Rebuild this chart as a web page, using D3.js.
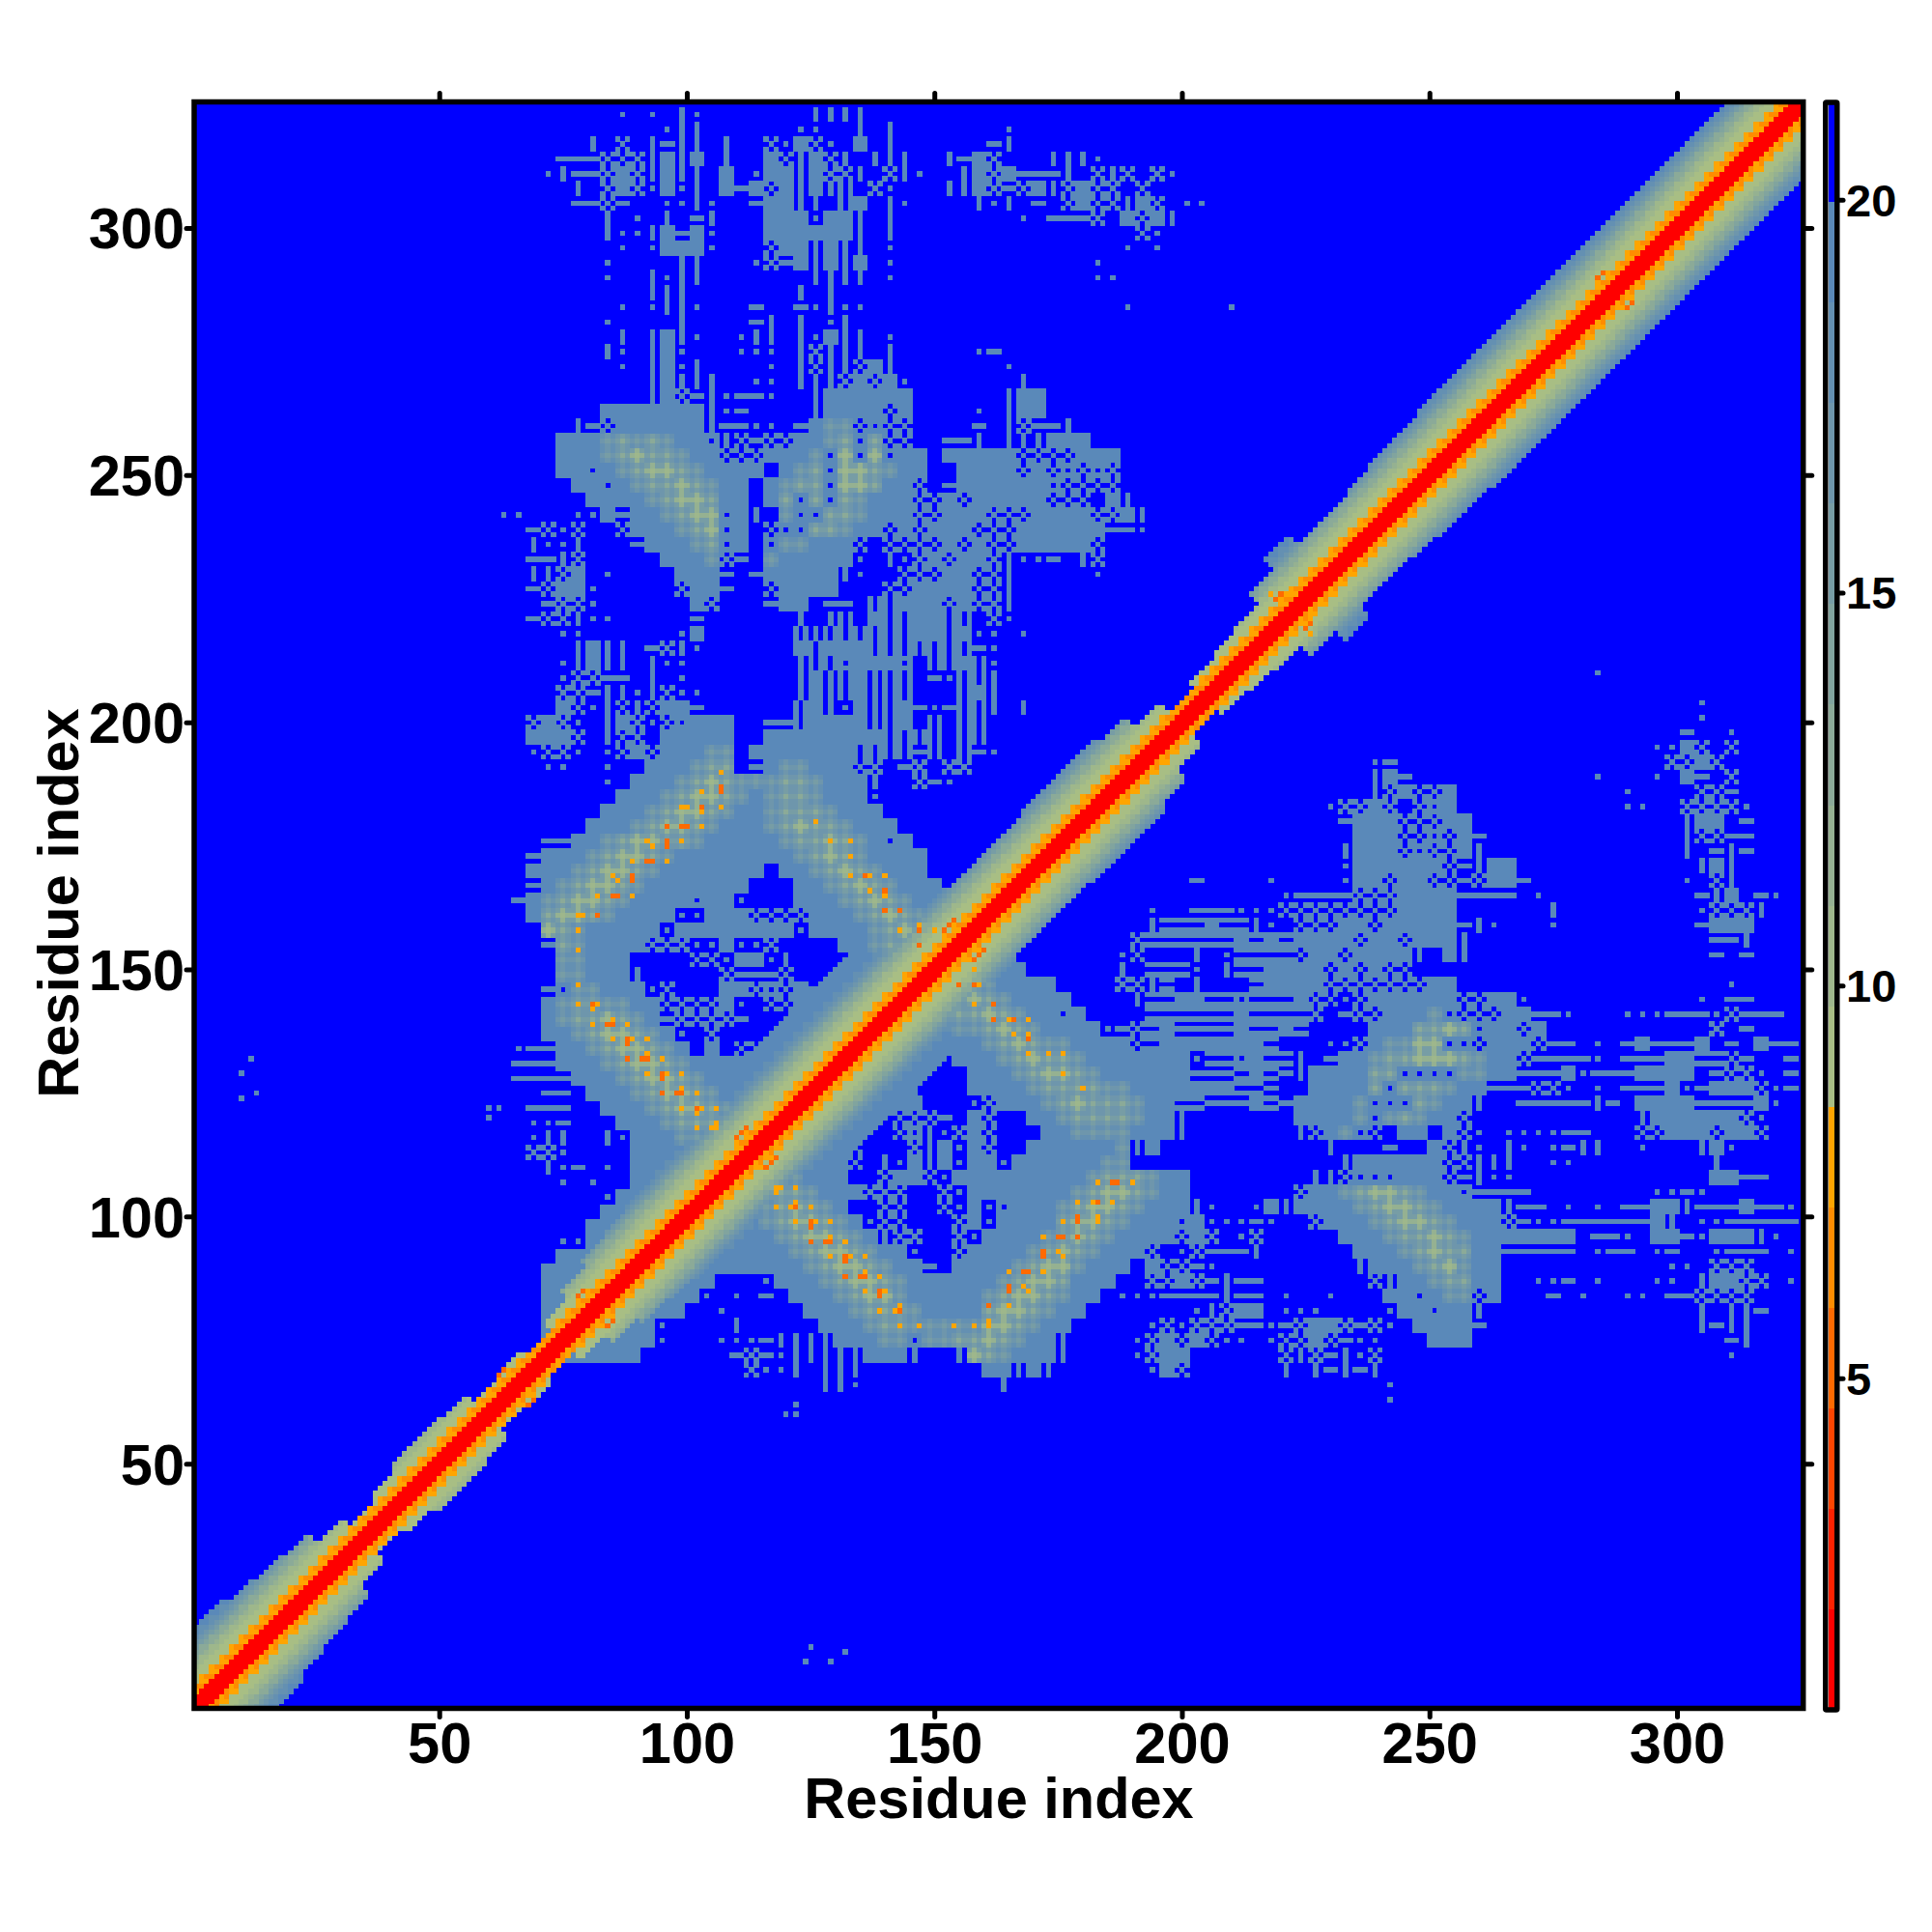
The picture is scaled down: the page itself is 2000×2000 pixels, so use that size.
<!DOCTYPE html>
<html><head><meta charset="utf-8">
<script src="https://cdn.jsdelivr.net/npm/d3@7/dist/d3.min.js"></script>
<style>html,body{margin:0;background:#fff}svg{display:block}text{font-family:"Liberation Sans",Arial,sans-serif;font-weight:bold;fill:#000}</style>
</head><body><svg id="c" width="2000" height="2000"></svg>
<script>
const axisLabel = "Residue index";
const mainTicks = [50,100,150,200,250,300];
const barTicks = [5,10,15,20];
const domainLo = 0.5, domainHi = 325.5;
const barLo = 0.78, barHi = 21.24, barStep = 1.28;
const palette = ["#ff0000","#ff2200","#ff4500","#ff6a00","#ff8c00","#ffa500","#a8be84","#9eb78b","#95b191","#8baa98","#81a49e","#779da5","#6e96ac","#6490b2","#5a89b9","#0000ff"];
// distance read along the backbone: value by offset |i-j|, even and odd residues
const bandEven = [1.5,1.5,1.5,6.5,7.5,7.5,9,9.5,10,11,12.5,13.5,15,16.5,17.5,18.5,19,19,19,19,19];
const bandOdd  = [1.5,1.5,1.5,7.5,6.5,9,9,9.5,10.5,11.5,13,14,15.5,17,18,19,19,19,19,19,19];
// how far the band reaches from the diagonal, per 5 residues along it
const bandReach = [15,16,16,14,13,12,8,5,7,9,9,8,5,6,4,7,10,12,13,14,15,16,20,20,20,20,20,20,20,20,16,14,13,13,13,14,14,14,12,8,4,6,7,8,12,16,12,12,13,14,14,15,15,15,15,15,15,15,15,15,15,15,15,15,15];
// upper triangle, 3-residue cells: x = 72,75,... ; y = 323,320,...
const contactRows = [
".....:.:.|:.......||||",
"........:||......::..|.|.......:",
"...|.%.|-||.|..%:#%:.#.|......-|",
".---%%%|#|#.|..#%|#%|.|.|||..|-#%...|||:".replace("|.|.|||","|.|||"),
":|--%#%|#||.#.:##|#%%|.%|:..|#%#---|.%|%.%:",
"..|.%#%:#:|.#-#%#|#|H.%:...||#%-%#|%#%%.%",
"..--%-..::|:..-##||.H#.|:....|:|.-.%#%%|#%.::",
"....|.:.|.-|...###:##|.|........:.---%.#%#|",
"....|::|#-#:...######|.|................%:",
".....:.:###:...%##|#||.:...............:.:",
"....:....||...:%-#|#|#.:.............:",
"....:..|:||.......||||.:.............::",
".......|||.......|.|",
".....:.:||:...-..-:|::.................:......:",
"....:....|....-|.|.:|",
".....|.|#|:..:||.|:#||.:",
"....|:.|#:...:::.|%|||.|.....:-",
".....:.|#:|....:.|%||%#|.......:",
".......|#|||..::.|||%#%#:.......|",
".......|#%-|:--:..|######......|##",
"....#######|:-....|####%#....:.|##",
"..|-%######|--::.-#aa%o%%....-.|%--|",
".###ababa##o|%-%%##abob%%..--|.|||###",
".###abcbba##%%%###aococo##.#####%%%%###",
".##o#abccba####.#aboccba##..####%#%o%o%",
"..##o#abbcba##.#abboccb##%.-######o%%%%",
"...####abccb##.#boboba###%%#%#####%%%.#|",
"..::#-##abcco#|.aoobba###%%###%%%####%%#|",
"%:%..%###abco#.%oobba##%#%###%%%######--:",
"::|...-###abo#.oaa###%.%%%%#%#%%#####%",
"-|%.....###a%-.a#####:.|:%#%##%|::-.|%",
"|%#.:....###-.-#####|:..%%%##%%|.....:",
"%##:.....%##-..%####...%%####%%|",
"-%%:......#%...-##.--.HH###%#%%|",
"%%|::.....-......|.|H.#HH##HH.%:",
".::......:#......H|HHHHHH##H#::.:",
"..|#||.-%|:......#H###HHHHHHH-:",
".:|#||.|::.......|HHo###o.HH#H:",
".:%%--.|.:.......|#|H#|HH.-:HH|",
".%%-||:|%::......|#|H#|HH...H#|",
".#%:|%|%##-......H#|:#|H#-:-HH|.|",
"#%:.|#%:%o###..--H####|H#.H.HH",
"##%.|%%.#####..########HHHH.HH",
"%%:.:%#%###aa.#######HHHH-H.H-:",
"::..:..###abb.-#aa###%%.-%.%%",
"....:.###abcbaaabba###|..%-:",
".....###abccba#abba###:",
"....###abccba##abbba###",
"...###abccba###abcbba###",
"--##abccbba#####abbcba#o#",
"###abccba########abcba####",
"##abccba#######.##abcba###",
"#abccba#######...##abcba###",
"abccba####o##:...###abcba##",
"bccba####::###%%%%###abcba#",
"cba#####:########:####abcbb",
"-ba####%%%::#::%....##abbcb",
".aa###....%%:##:|.....#abbb",
".aa###|.....%---%...##aabbbb",
"-oaa###:%...##%o%#-###abbbbb",
"#abbaa##%%%%#:.%%####aab",
"#abbcba#-%%%%-...####a",
"##abccba#:.%....-###a",
"-##abccba#.#.%%#####a",
"-###abccba##########",
"--###abccba#########",
"--.###abccba########",
"--..###abccba#aaaa",
":-...###abbbaa",
"||..|:###aaaaa",
"%:....####aabb",
"|:-.:.#####aaa",
".:.:..######",
"....:#######",
"....########",
"...#########",
".::########",
".#######",
"#######",
"#####",
"####",
"###",
"##"
];
const rowTop = 323, colLeft = 72, cellStep = 3;
// a little further left than the main block: x = 63,66,69
const outerRows = [[242,"::."],[239,"..-"],[236,"..|"],[233,"..-"],[230,"..|"],[227,"..-"],[221,"..-"],[200,"..%"],[197,"..#"],[194,"..:"],[173,"..-"],[170,"..#"],[167,"..-"],[164,".-#"],[161,"..#"],[134,".:-"],[131,".--"],[128,".--"],[122,"..-"],[119,"..:"],[116,"..:"],[113,"..%"]];
const outerCols = [63,66,69];
const specks = [[12,132],[10,129],[13,125],[10,124],[60,122],[62,122],[60,120]];
const hotLight = [[107,190],[103,186],[99,183],[100,183],[107,183],[103,182],[103,179],[92,176],[99,176],[93,175],[89,172],[96,172],[85,169],[86,168],[82,165],[89,165],[78,161],[79,161],[78,158],[78,154],[78,147],[78,143],[82,143],[81,142],[85,140],[81,139],[88,139],[85,136],[89,136],[92,136],[92,133],[95,132],[92,129],[96,129],[99,129],[99,126],[102,125],[99,122],[103,122],[106,122],[102,121],[102,118],[106,118],[105,118],[106,119],[126,180],[129,176],[133,176],[133,173],[133,169],[137,169],[140,169],[137,166],[140,165],[143,158],[147,159],[150,158],[218,226],[219,225],[221,226]];
const hotDark = [[107,187],[107,186],[103,183],[96,179],[99,179],[100,179],[96,176],[96,175],[92,172],[93,172],[89,169],[89,168],[85,165],[86,165],[82,161],[81,143],[84,139],[85,139],[88,136],[88,135],[88,132],[91,132],[92,132],[95,129],[95,128],[95,125],[98,125],[99,125],[102,122],[136,169],[140,166],[140,162],[143,162],[147,158],[147,155],[110,116],[111,117],[112,118],[152,158],[153,159],[154,160],[78,84],[79,85],[62,68],[63,69],[284,290],[285,291],[219,225],[220,226]];
const hotLightValue = 7.5, hotDarkValue = 5.2;
const stampValues = {"#":[19,19,19],"a":[15,17,18.5],"b":[12.5,15,17],"c":[10,12,15]};

const x = d3.scaleLinear().domain([domainLo,domainHi]).range([201,1866.7]);
const y = d3.scaleLinear().domain([domainLo,domainHi]).range([1768.5,105.5]);
const barY = d3.scaleLinear().domain([barLo,barHi]).range([1770,106]);
const color = d3.scaleThreshold().domain(d3.range(1,palette.length).map(k=>barLo+k*barStep)).range(palette);

const N = 325, m = new Float32Array((N+1)*(N+1)).fill(21);
function put(a,b,v){ if(a<1||b<1||a>N||b>N) return; const i=a*(N+1)+b,j=b*(N+1)+a; if(v<m[i]){m[i]=v;m[j]=v;} }
function stamp(cx,cy,g){
  for(let dx=-1;dx<=1;dx++)for(let dy=-1;dy<=1;dy++){
    const n=Math.abs(dx)+Math.abs(dy); let v=null;
    if(stampValues[g]) v=stampValues[g][n];
    else if(g==="|"&&dx===0) v=19;
    else if(g==="-"&&dy===0) v=19;
    else if(g===":"&&n===0) v=19;
    else if(g==="%"&&n%2===0) v=19;
    else if(g==="o"&&n>0) v=19;
    else if(g==="H"&&dx!==0) v=19;
    if(v!==null&&cy+dy>=cx+dx) put(cx+dx,cy+dy,v);
  }
}
contactRows.forEach((r,i)=>{[...r].forEach((g,k)=>{ if(g!==".") stamp(colLeft+k*cellStep,rowTop-i*cellStep,g); });});
outerRows.forEach(([yy,r])=>{[...r].forEach((g,k)=>{ if(g!==".") stamp(outerCols[k],yy,g); });});
specks.forEach(([a,b])=>put(a,b,19));
hotLight.forEach(([a,b])=>put(a,b,hotLightValue));
hotDark.forEach(([a,b])=>put(a,b,hotDarkValue));
for(let a=1;a<=N;a++)for(let b=a;b<=N;b++){
  const d=b-a, mid=(a+b)/2, reach=bandReach[Math.min(bandReach.length-1,Math.floor(mid/5))];
  if(d<=reach&&d<bandEven.length) put(a,b,(a%2?bandOdd:bandEven)[d]);
}
const cells=[];
for(let a=1;a<=N;a++)for(let b=1;b<=N;b++){const v=m[a*(N+1)+b]; if(v<20) cells.push({a,b,v});}

const svg=d3.select("#c");
svg.append("rect").attr("width",2000).attr("height",2000).attr("fill","#fff");
svg.append("rect").attr("x",x(domainLo)).attr("y",y(domainHi)).attr("width",x(domainHi)-x(domainLo)).attr("height",y(domainLo)-y(domainHi)).attr("fill",palette[15]);
const cw=x(1)-x(0);
svg.append("g").attr("shape-rendering","crispEdges").selectAll("rect").data(cells).join("rect")
 .attr("x",d=>x(d.a-.5)).attr("y",d=>y(d.b+.5)).attr("width",cw+.4).attr("height",cw+.4).attr("fill",d=>color(d.v));

function styleAxis(g){g.select(".domain").remove();g.selectAll(".tick line").attr("stroke","#000").attr("stroke-width",5).attr("stroke-linecap","round");}
const sz=59.5;
svg.append("g").attr("transform",`translate(0,${y(domainLo)+2})`).call(d3.axisBottom(x).tickValues(mainTicks).tickSize(7).tickPadding(0)).call(styleAxis).call(g=>g.selectAll("text").attr("y",54).attr("dy",0).attr("font-size",sz).attr("font-family",null));
svg.append("g").attr("transform",`translate(0,${y(domainHi)-2})`).call(d3.axisTop(x).tickValues(mainTicks).tickSize(7).tickFormat("")).call(styleAxis);
svg.append("g").attr("transform",`translate(${x(domainLo)-2},0)`).call(d3.axisLeft(y).tickValues(mainTicks).tickSize(6).tickPadding(2)).call(styleAxis).call(g=>g.selectAll("text").attr("dy",21).attr("font-size",sz).attr("font-family",null));
svg.append("g").attr("transform",`translate(${x(domainHi)+2},0)`).call(d3.axisRight(y).tickValues(mainTicks).tickSize(7).tickFormat("")).call(styleAxis);
svg.append("rect").attr("x",x(domainLo)).attr("y",y(domainHi)).attr("width",x(domainHi)-x(domainLo)).attr("height",y(domainLo)-y(domainHi)).attr("fill","none").attr("stroke","#000").attr("stroke-width",5.5);
svg.append("text").attr("x",1034).attr("y",1882).attr("text-anchor","middle").attr("font-size",sz).text(axisLabel);
svg.append("text").attr("transform","translate(81,935) rotate(-90)").attr("text-anchor","middle").attr("font-size",sz).text(axisLabel);

// colour bar
const barX0=1892.5, barW=6.5;
svg.append("g").attr("shape-rendering","crispEdges").selectAll("rect").data(palette).join("rect")
 .attr("x",barX0).attr("width",barW).attr("y",(c,k)=>barY(barLo+(k+1)*barStep)).attr("height",(c,k)=>barY(barLo+k*barStep)-barY(barLo+(k+1)*barStep)+.5).attr("fill",c=>c);
svg.append("rect").attr("x",barX0-2.75).attr("y",barY(barHi)).attr("width",barW+5.5).attr("height",barY(barLo)-barY(barHi)).attr("fill","none").attr("stroke","#000").attr("stroke-width",5.5).attr("rx",1);
svg.append("g").attr("transform",`translate(${barX0+barW+4},0)`).call(d3.axisRight(barY).tickValues(barTicks).tickSize(5).tickPadding(3)).call(styleAxis).call(g=>g.selectAll("text").attr("dy",16.5).attr("font-size",47).attr("font-family",null));
</script></body></html>
